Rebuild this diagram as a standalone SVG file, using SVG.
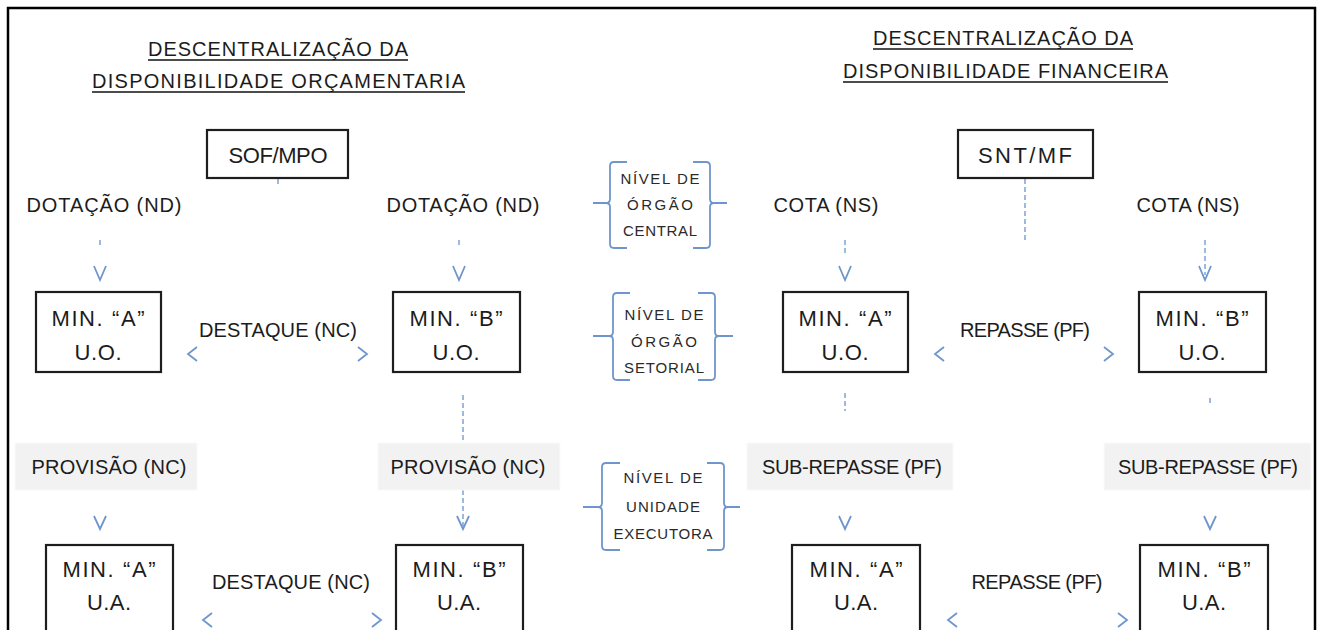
<svg xmlns="http://www.w3.org/2000/svg" width="1321" height="630" viewBox="0 0 1321 630">
<style>
  text { font-family: "Liberation Sans", Arial, sans-serif; fill: #1c1c1c; }
  .title { font-size: 20px; }
  .lbl { font-size: 20px; text-anchor: middle; }
  .box { fill: #fff; stroke: #1e1e1e; stroke-width: 2.2; }
  .bx { font-size: 22px; text-anchor: middle; }
  .gray { fill: #f2f2f2; stroke: #fafafa; stroke-width: 1; }
  .ul { stroke: #111; stroke-width: 1.6; }
  .dash { stroke: #7ea2d2; stroke-width: 1.5; stroke-dasharray: 5 3; fill: none; }
  .chev { stroke: #6f96cc; stroke-width: 1.8; fill: none; }
  .brace { stroke: #6f96cc; stroke-width: 1.8; fill: none; }
  .brt { font-size: 15px; text-anchor: middle; fill: #2a2a2a; }
</style>

<rect x="8" y="8" width="1307" height="650" fill="#fff" stroke="#000" stroke-width="2.5"/>

<g id="title-left">
  <text class="title" x="148" y="56" textLength="260">DESCENTRALIZAÇÃO DA</text>
  <line class="ul" x1="148" y1="60" x2="408" y2="60"/>
  <text class="title" x="92" y="88" textLength="373">DISPONIBILIDADE ORÇAMENTARIA</text>
  <line class="ul" x1="92" y1="92" x2="465" y2="92"/>
</g>
<g id="title-right">
  <text class="title" x="873" y="45" textLength="260">DESCENTRALIZAÇÃO DA</text>
  <line class="ul" x1="873" y1="49" x2="1133" y2="49"/>
  <text class="title" x="843" y="78" textLength="325">DISPONIBILIDADE FINANCEIRA</text>
  <line class="ul" x1="843" y1="82" x2="1168" y2="82"/>
</g>

<g id="connectors">
  <line class="dash" x1="278" y1="179" x2="278" y2="184"/>
  <line class="dash" x1="100" y1="240" x2="100" y2="246"/>
  <line class="dash" x1="459" y1="240" x2="459" y2="246"/>
  <line class="dash" x1="845" y1="240" x2="845" y2="253"/>
  <line class="dash" x1="1025" y1="179" x2="1025" y2="243"/>
  <line class="dash" x1="1205" y1="240" x2="1205" y2="275"/>
  <line class="dash" x1="463" y1="395" x2="463" y2="442"/>
  <line class="dash" x1="463" y1="490" x2="463" y2="526"/>
  <line class="dash" x1="845" y1="393" x2="845" y2="411"/>
  <line class="dash" x1="1210" y1="398" x2="1210" y2="403"/>
  <path class="chev" d="M94,266 L100,280 L106,266"/>
  <path class="chev" d="M453,266 L459,280 L465,266"/>
  <path class="chev" d="M839,266 L845,280 L851,266"/>
  <path class="chev" d="M1199,266 L1205,280 L1211,266"/>
  <path class="chev" d="M197,347 L188,354 L197,361"/>
  <path class="chev" d="M358,347 L367,354 L358,361"/>
  <path class="chev" d="M944,347 L935,354 L944,361"/>
  <path class="chev" d="M1104,347 L1113,354 L1104,361"/>
  <path class="chev" d="M94,516 L100,529 L106,516"/>
  <path class="chev" d="M457,516 L463,529 L469,516"/>
  <path class="chev" d="M839,516 L845,529 L851,516"/>
  <path class="chev" d="M1204,516 L1210,529 L1216,516"/>
  <path class="chev" d="M212,613 L203,620 L212,627"/>
  <path class="chev" d="M372,613 L381,620 L372,627"/>
  <path class="chev" d="M957,613 L948,620 L957,627"/>
  <path class="chev" d="M1118,613 L1127,620 L1118,627"/>
</g>

<g id="sof-mpo">
  <rect class="box" x="207" y="130" width="141" height="48"/>
  <text class="bx" x="278" y="163" textLength="99">SOF/MPO</text>
</g>
<g id="snt-mf">
  <rect class="box" x="958" y="130" width="135" height="48"/>
  <text class="bx" x="1025" y="163" textLength="94">SNT/MF</text>
</g>

<g id="labels">
  <text class="lbl" x="104" y="212" textLength="155">DOTAÇÃO (ND)</text>
  <text class="lbl" x="463" y="212" textLength="153">DOTAÇÃO (ND)</text>
  <text class="lbl" x="826" y="212" textLength="105">COTA (NS)</text>
  <text class="lbl" x="1188" y="212" textLength="103">COTA (NS)</text>
  <text class="lbl" x="278" y="337" textLength="158">DESTAQUE (NC)</text>
  <text class="lbl" x="1025" y="337" textLength="130">REPASSE (PF)</text>
  <text class="lbl" x="291" y="589" textLength="158">DESTAQUE (NC)</text>
  <text class="lbl" x="1037" y="589" textLength="131">REPASSE (PF)</text>
</g>

<g id="provisao-a">
  <rect class="gray" x="15" y="443" width="182" height="47"/>
  <text class="lbl" x="109" y="474" textLength="155">PROVISÃO (NC)</text>
</g>
<g id="provisao-b">
  <rect class="gray" x="378" y="443" width="182" height="47"/>
  <text class="lbl" x="468" y="474" textLength="155">PROVISÃO (NC)</text>
</g>
<g id="subrepasse-a">
  <rect class="gray" x="747" y="443" width="206" height="47"/>
  <text class="lbl" x="852" y="474" textLength="180">SUB-REPASSE (PF)</text>
</g>
<g id="subrepasse-b">
  <rect class="gray" x="1104" y="443" width="207" height="47"/>
  <text class="lbl" x="1208" y="474" textLength="180">SUB-REPASSE (PF)</text>
</g>

<g id="min-a-uo-orc">
  <rect class="box" x="36" y="292" width="125" height="80"/>
  <text class="bx" x="98" y="326" textLength="93">MIN. “A”</text>
  <text class="bx" x="98" y="360" textLength="47">U.O.</text>
</g>
<g id="min-b-uo-orc">
  <rect class="box" x="393" y="292" width="127" height="80"/>
  <text class="bx" x="456" y="326" textLength="93">MIN. “B”</text>
  <text class="bx" x="456" y="360" textLength="47">U.O.</text>
</g>
<g id="min-a-uo-fin">
  <rect class="box" x="783" y="292" width="125" height="80"/>
  <text class="bx" x="845" y="326" textLength="93">MIN. “A”</text>
  <text class="bx" x="845" y="360" textLength="47">U.O.</text>
</g>
<g id="min-b-uo-fin">
  <rect class="box" x="1139" y="292" width="127" height="80"/>
  <text class="bx" x="1202" y="326" textLength="93">MIN. “B”</text>
  <text class="bx" x="1202" y="360" textLength="47">U.O.</text>
</g>

<g id="min-a-ua-orc">
  <rect class="box" x="46" y="545" width="127" height="100"/>
  <text class="bx" x="109" y="577" textLength="93">MIN. “A”</text>
  <text class="bx" x="109" y="610" textLength="44">U.A.</text>
</g>
<g id="min-b-ua-orc">
  <rect class="box" x="396" y="545" width="127" height="100"/>
  <text class="bx" x="459" y="577" textLength="93">MIN. “B”</text>
  <text class="bx" x="459" y="610" textLength="44">U.A.</text>
</g>
<g id="min-a-ua-fin">
  <rect class="box" x="792" y="545" width="128" height="100"/>
  <text class="bx" x="856" y="577" textLength="93">MIN. “A”</text>
  <text class="bx" x="856" y="610" textLength="44">U.A.</text>
</g>
<g id="min-b-ua-fin">
  <rect class="box" x="1140" y="545" width="128" height="100"/>
  <text class="bx" x="1204" y="577" textLength="93">MIN. “B”</text>
  <text class="bx" x="1204" y="610" textLength="44">U.A.</text>
</g>

<g id="nivel-central">
  <path class="brace" d="M627,162 H614 Q610,162 610,166 V199 Q610,203 606,203 H593 M606,203 Q610,203 610,207 V244 Q610,248 614,248 H627"/>
  <path class="brace" d="M693,162 H706 Q710,162 710,166 V199 Q710,203 714,203 H727 M714,203 Q710,203 710,207 V244 Q710,248 706,248 H693"/>
  <text class="brt" x="660" y="184" textLength="79">NÍVEL DE</text>
  <text class="brt" x="660" y="210" textLength="66">ÓRGÃO</text>
  <text class="brt" x="660" y="236" textLength="74">CENTRAL</text>
</g>
<g id="nivel-setorial">
  <path class="brace" d="M630,293 H617 Q613,293 613,297 V332 Q613,336 609,336 H593 M609,336 Q613,336 613,340 V376 Q613,380 617,380 H630"/>
  <path class="brace" d="M698,293 H711 Q715,293 715,297 V332 Q715,336 719,336 H733 M719,336 Q715,336 715,340 V376 Q715,380 711,380 H698"/>
  <text class="brt" x="664" y="320" textLength="79">NÍVEL DE</text>
  <text class="brt" x="664" y="347" textLength="66">ÓRGÃO</text>
  <text class="brt" x="664" y="373" textLength="80">SETORIAL</text>
</g>
<g id="nivel-unidade">
  <path class="brace" d="M620,463 H606 Q602,463 602,467 V503 Q602,507 598,507 H583 M598,507 Q602,507 602,511 V546 Q602,550 606,550 H620"/>
  <path class="brace" d="M707,463 H720 Q724,463 724,467 V503 Q724,507 728,507 H740 M728,507 Q724,507 724,511 V546 Q724,550 720,550 H707"/>
  <text class="brt" x="663" y="483" textLength="79">NÍVEL DE</text>
  <text class="brt" x="663" y="512" textLength="74">UNIDADE</text>
  <text class="brt" x="663" y="539" textLength="99">EXECUTORA</text>
</g>
</svg>
